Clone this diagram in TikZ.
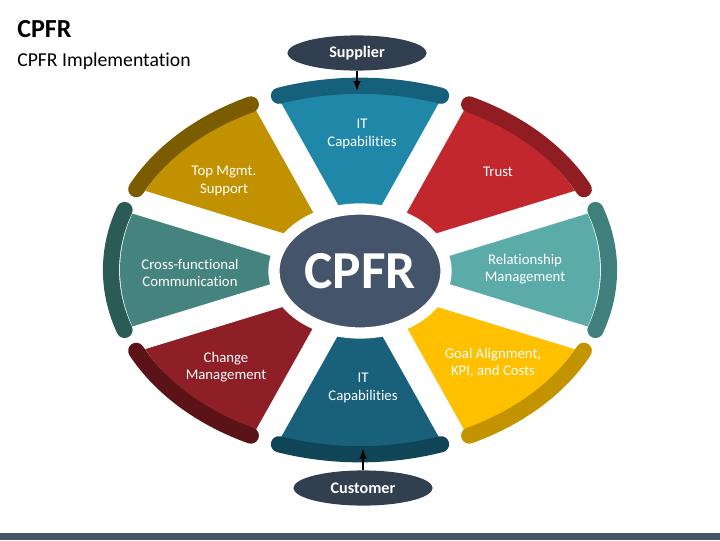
\documentclass[tikz,border=0pt]{standalone}
\usepackage{fontspec}
\setmainfont{Carlito}[Ligatures=NoCommon]
\usepackage{tikz}
\usetikzlibrary{shapes.geometric}
\usetikzlibrary{arrows}

\definecolor{itblue}{HTML}{1F87A8}
\definecolor{itbluerim}{HTML}{15607A}
\definecolor{trustred}{HTML}{C1272D}
\definecolor{trustrim}{HTML}{8F1D22}
\definecolor{relteal}{HTML}{5BABA9}
\definecolor{relrim}{HTML}{3F7F7C}
\definecolor{goalyel}{HTML}{FFC000}
\definecolor{goalrim}{HTML}{C39400}
\definecolor{itdark}{HTML}{19607A}
\definecolor{itdarkrim}{HTML}{0F4556}
\definecolor{changered}{HTML}{8E1F27}
\definecolor{changerim}{HTML}{5C1318}
\definecolor{crossteal}{HTML}{45837E}
\definecolor{crossrim}{HTML}{2B5B57}
\definecolor{topgold}{HTML}{C19100}
\definecolor{topgoldrim}{HTML}{7B5C00}
\definecolor{slate}{HTML}{44546A}
\definecolor{navy}{HTML}{323F4F}

\begin{document}
\begin{tikzpicture}[x=0.025cm, y=-0.025cm,
    lbl/.style={text=white, align=center, font=\fontsize{10.5}{12.5}\selectfont},
    rim/.style={line width=11.5pt, line cap=round},
    gap/.style={white, line width=18pt},
    tag/.style={ellipse, fill=navy, text=white, minimum width=99pt,
        minimum height=25pt, inner sep=0pt, font=\bfseries\fontsize{11.5}{13}\selectfont}]

\useasboundingbox (0, 0) rectangle (720, 540);

% titles
\node [anchor=base west, inner sep=0pt, font=\bfseries\fontsize{18.5}{20}\selectfont] (title) at (17, 37) {CPFR};
\node [anchor=base west, inner sep=0pt, font=\fontsize{14}{16}\selectfont] (subtitle) at (17, 66) {CPFR Implementation};

% wedges, in a squashed frame
\begin{scope}[shift={(360, 270)}, yscale=-0.74]
\fill [itblue] (0, 0) -- (67.5:240) arc (67.5:112.5:240) -- cycle;
\fill [trustred] (0, 0) -- (22.5:240) arc (22.5:67.5:240) -- cycle;
\fill [relteal] (0, 0) -- (-22.5:240) arc (-22.5:22.5:240) -- cycle;
\fill [goalyel] (0, 0) -- (-67.5:240) arc (-67.5:-22.5:240) -- cycle;
\fill [itdark] (0, 0) -- (-112.5:240) arc (-112.5:-67.5:240) -- cycle;
\fill [changered] (0, 0) -- (-157.5:240) arc (-157.5:-112.5:240) -- cycle;
\fill [crossteal] (0, 0) -- (157.5:240) arc (157.5:202.5:240) -- cycle;
\fill [topgold] (0, 0) -- (112.5:240) arc (112.5:157.5:240) -- cycle;

\draw [gap] (0, 0) -- (22.5:290);
\draw [gap] (0, 0) -- (67.5:290);
\draw [gap] (0, 0) -- (112.5:290);
\draw [gap] (0, 0) -- (157.5:290);
\draw [gap] (0, 0) -- (202.5:290);
\draw [gap] (0, 0) -- (247.5:290);
\draw [gap] (0, 0) -- (292.5:290);
\draw [gap] (0, 0) -- (337.5:290);

\draw [rim, itbluerim] (71:249) arc (71:109:249);
\draw [rim, trustrim] (26:249) arc (26:64:249);
\draw [rim, relrim] (-19:249) arc (-19:19:249);
\draw [rim, goalrim] (-64:249) arc (-64:-26:249);
\draw [rim, itdarkrim] (-109:249) arc (-109:-71:249);
\draw [rim, changerim] (-154:249) arc (-154:-116:249);
\draw [rim, crossrim] (161:249) arc (161:199:249);
\draw [rim, topgoldrim] (116:249) arc (116:154:249);

\coordinate (toprim) at (90:242);
\coordinate (botrim) at (-90:242);
\end{scope}

% centre
\filldraw [fill=slate, draw=white, line width=8pt] (360, 271) ellipse [x radius=86, y radius=62];
\node [text=white, font=\bfseries\fontsize{38}{40}\selectfont] (cpfr) at (360, 271) {CPFR};

% labels
\node [lbl] (ittop) at (362, 134) {IT\\Capabilities};
\node [lbl] (trust) at (498, 172) {Trust};
\node [lbl] (relation) at (525, 269) {Relationship\\Management};
\node [lbl] (goal) at (493, 363) {Goal Alignment,\\KPI, and Costs};
\node [lbl] (itbot) at (363, 388) {IT\\Capabilities};
\node [lbl] (change) at (226, 367) {Change\\Management};
\node [lbl] (cross) at (190, 273) {Cross-functional\\Communication};
\node [lbl] (topmgmt) at (224, 181) {Top Mgmt.\\Support};

% supplier and customer
\node [tag] (supplier) at (357, 53) {Supplier};
\node [tag] (customer) at (363, 488) {Customer};
\draw [-latex, line width=1.4pt] (supplier.south) -- (supplier.south |- toprim);
\draw [-latex, line width=1.4pt] (customer.north) -- (customer.north |- botrim);

% bottom bar
\fill [slate] (0, 533) rectangle (720, 540);
\end{tikzpicture}
\end{document}
